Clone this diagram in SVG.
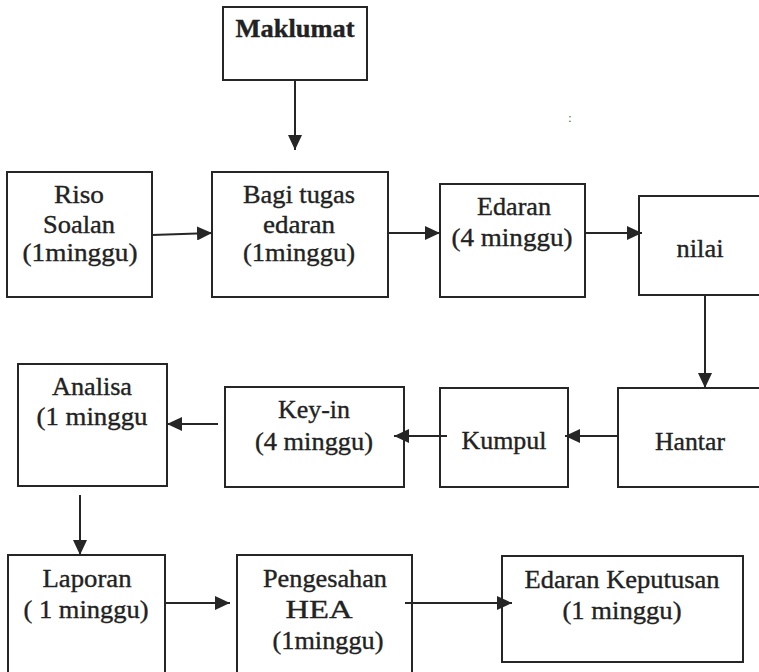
<svg xmlns="http://www.w3.org/2000/svg" width="759" height="672" viewBox="0 0 759 672">
<style>
.box{fill:#fff;stroke:#262626;stroke-width:2}
.t{font-family:"Liberation Serif","Times New Roman",serif;font-size:25px;fill:#222;stroke:#222;stroke-width:0.35;text-anchor:middle}
.b{font-weight:bold}
.c{stroke:#262626;stroke-width:2;fill:none;marker-end:url(#ah)}
</style>
<defs>
<marker id="ah" markerUnits="userSpaceOnUse" markerWidth="16" markerHeight="14" refX="15" refY="7" orient="auto">
<path d="M0,0 L15,7 L0,14 z" fill="#262626"/>
</marker>
</defs>
<rect width="759" height="672" fill="#fff"/>
<g id="maklumat">
<rect class="box" x="223" y="7" width="144" height="73"/>
<text class="t b" x="295" y="37" textLength="119" lengthAdjust="spacingAndGlyphs">Maklumat</text>
</g>
<g id="riso">
<rect class="box" x="7" y="172" width="145" height="125"/>
<text class="t" x="79" y="203" textLength="50" lengthAdjust="spacingAndGlyphs">Riso</text>
<text class="t" x="79" y="233" textLength="72" lengthAdjust="spacingAndGlyphs">Soalan</text>
<text class="t" x="80" y="261" textLength="115" lengthAdjust="spacingAndGlyphs">(1minggu)</text>
</g>
<g id="bagi">
<rect class="box" x="212" y="172" width="176" height="125"/>
<text class="t" x="299" y="203" textLength="112" lengthAdjust="spacingAndGlyphs">Bagi tugas</text>
<text class="t" x="299" y="233" textLength="72" lengthAdjust="spacingAndGlyphs">edaran</text>
<text class="t" x="299" y="261" textLength="112" lengthAdjust="spacingAndGlyphs">(1minggu)</text>
</g>
<g id="edaran">
<rect class="box" x="440" y="184" width="145" height="113"/>
<text class="t" x="514" y="215" textLength="74" lengthAdjust="spacingAndGlyphs">Edaran</text>
<text class="t" x="512" y="246" textLength="121" lengthAdjust="spacingAndGlyphs">(4 minggu)</text>
</g>
<g id="nilai">
<rect class="box" x="639" y="196" width="130" height="99"/>
<text class="t" x="700" y="257" textLength="47" lengthAdjust="spacingAndGlyphs">nilai</text>
</g>
<text x="570" y="122" font-family="Liberation Serif, serif" font-size="12" fill="#555" text-anchor="middle">:</text>
<g id="hantar">
<rect class="box" x="618" y="388" width="150" height="99"/>
<text class="t" x="690" y="450" textLength="70" lengthAdjust="spacingAndGlyphs">Hantar</text>
</g>
<g id="kumpul">
<rect class="box" x="440" y="388" width="128" height="99"/>
<text class="t" x="504" y="449" textLength="85" lengthAdjust="spacingAndGlyphs">Kumpul</text>
</g>
<g id="keyin">
<rect class="box" x="225" y="387" width="179" height="100"/>
<text class="t" x="314" y="418" textLength="72" lengthAdjust="spacingAndGlyphs">Key-in</text>
<text class="t" x="314" y="450" textLength="118" lengthAdjust="spacingAndGlyphs">(4 minggu)</text>
</g>
<g id="analisa">
<rect class="box" x="18" y="364" width="149" height="122"/>
<text class="t" x="92" y="395" textLength="80" lengthAdjust="spacingAndGlyphs">Analisa</text>
<text class="t" x="92" y="425" textLength="111" lengthAdjust="spacingAndGlyphs">(1 minggu</text>
</g>
<g id="laporan">
<rect class="box" x="8" y="555" width="157" height="130"/>
<text class="t" x="87" y="587" textLength="89" lengthAdjust="spacingAndGlyphs">Laporan</text>
<text class="t" x="86" y="618" textLength="125" lengthAdjust="spacingAndGlyphs">( 1 minggu)</text>
</g>
<g id="pengesahan">
<rect class="box" x="237" y="555" width="175" height="130"/>
<text class="t" x="325" y="587" textLength="124" lengthAdjust="spacingAndGlyphs">Pengesahan</text>
<text class="t" x="319" y="618" textLength="67" lengthAdjust="spacingAndGlyphs">HEA</text>
<text class="t" x="328" y="649" textLength="111" lengthAdjust="spacingAndGlyphs">(1minggu)</text>
</g>
<g id="edaran-keputusan">
<rect class="box" x="502" y="556" width="241" height="106"/>
<text class="t" x="622" y="588" textLength="195" lengthAdjust="spacingAndGlyphs">Edaran Keputusan</text>
<text class="t" x="622" y="619" textLength="119" lengthAdjust="spacingAndGlyphs">(1 minggu)</text>
</g>
<g id="connectors">
<path class="c" d="M295,80 V150"/>
<path class="c" d="M152,235 L212,233"/>
<path class="c" d="M388,233 H440"/>
<path class="c" d="M585,233 H642"/>
<path class="c" d="M705,295 V388"/>
<path class="c" d="M618,436 H565"/>
<path class="c" d="M447,436 H394"/>
<path class="c" d="M218,424 H167"/>
<path class="c" d="M80,495 V555"/>
<path class="c" d="M165,603 H230"/>
<path class="c" d="M405,603 H512"/>
</g>
</svg>
